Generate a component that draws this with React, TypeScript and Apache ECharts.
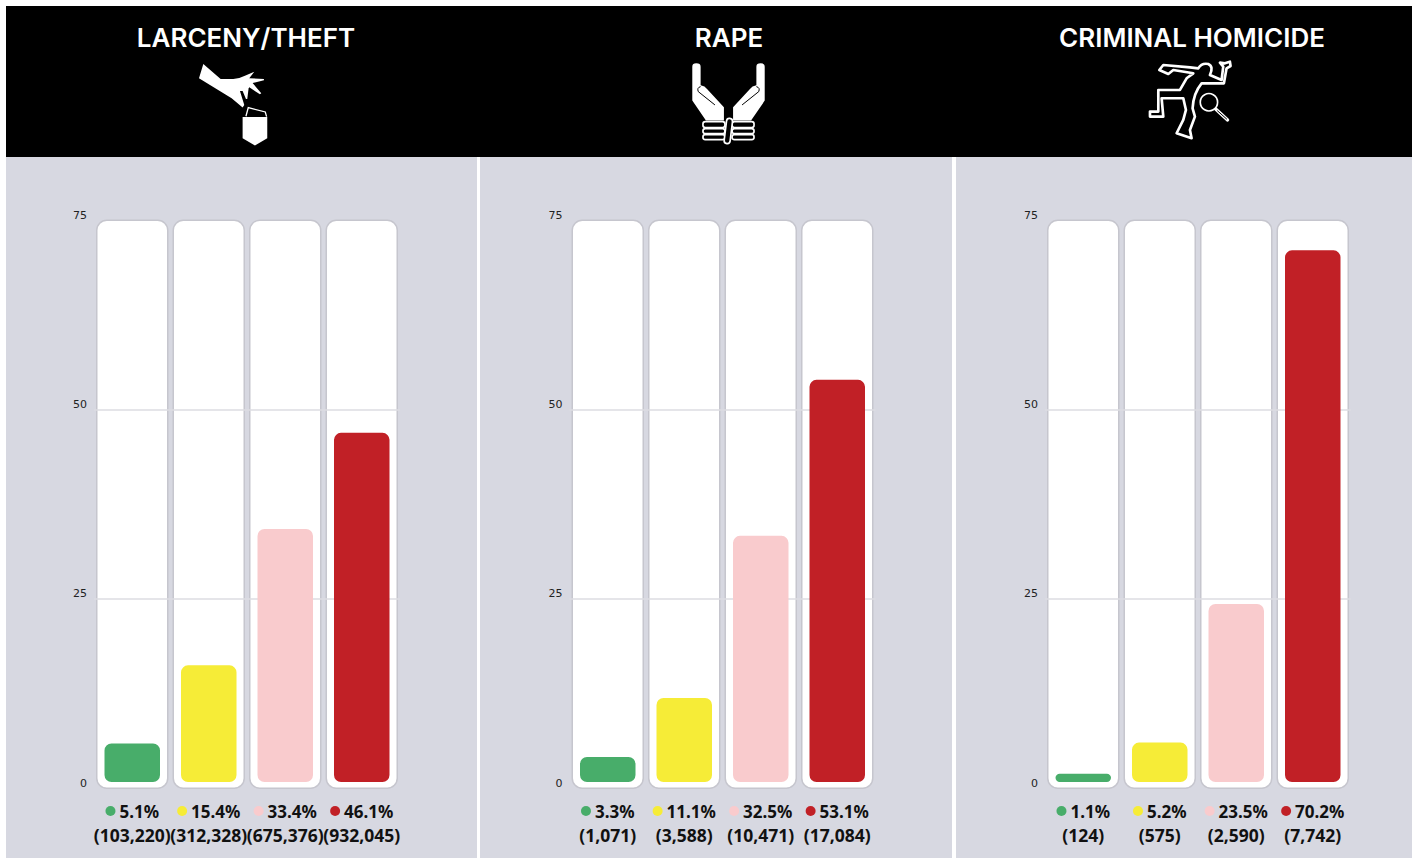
import React, { useEffect, useRef } from "react";
import * as echarts from "echarts";

const panelTitles = ["LARCENY/THEFT", "RAPE", "CRIMINAL HOMICIDE"];
const riskGroups = ["Low", "Moderate", "High", "Very high"];
const larcenyPct = [5.1, 15.4, 33.4, 46.1];
const rapePct = [3.3, 11.1, 32.5, 53.1];
const homicidePct = [1.1, 5.2, 23.5, 70.2];
const larcenyCounts = ["(103,220)", "(312,328)", "(675,376)", "(932,045)"];
const rapeCounts = ["(1,071)", "(3,588)", "(10,471)", "(17,084)"];
const homicideCounts = ["(124)", "(575)", "(2,590)", "(7,742)"];
const yTicksMax = 75;
const yTickStep = 25;
const columnFull = [75, 75, 75, 75];
const barColors = ["#48ad6a", "#f6ec37", "#f9cbcd", "#c12026"];

const panelValues = [larcenyPct, rapePct, homicidePct];
const panelCounts = [larcenyCounts, rapeCounts, homicideCounts];
const gridLefts = [94, 569.5, 1045];
const gridWidth = 306;
const titleCenters = [246, 729, 1192];
const FONT = "Inter, 'Noto Sans', sans-serif";
const LABEL_FONT = "'Noto Sans', sans-serif";
const TICK_FONT = "'DejaVu Sans', sans-serif";

echarts.graphic.registerShape(
  "handIcon",
  echarts.graphic.extendPath(
    "M40 27 L92 72 L130 72 Q150 70 165 62 L193 50 L178 70 L222 72 L222 76 L188 84 L214 115 L210 118 L178 97 L176 100 L172 132 L168 132 L158 108 L150 108 L163 150 L158 158 L125 130 L27 70 Z M158 186 L232 186 L232 250 L195 272 L158 250 Z",
    {}
  )
);
echarts.graphic.registerShape(
  "cardIcon",
  echarts.graphic.extendPath("M168 184 L175 158 L226 171 L230 185", {})
);
echarts.graphic.registerShape(
  "openHand",
  echarts.graphic.extendPath(
    "M127 50 Q127 40 139 40 Q152 40 152 50 L152 106 Q165 108 172 118 L222 172 L222 212 L168 212 L127 152 Z",
    {}
  )
);
echarts.graphic.registerShape(
  "thumbLine",
  echarts.graphic.extendPath("M152 110 Q140 113 145 125 L195 165", {})
);
echarts.graphic.registerShape(
  "chalkBody",
  echarts.graphic.extendPath(
    "M88 60 L100 45 L180 52 L205 55 Q215 38 235 42 Q252 50 240 75 L275 90 L280 50 L270 38 L285 40 L300 35 L302 48 L290 55 L282 100 L215 100 Q190 130 188 175 L195 200 L180 240 L185 265 L140 250 L160 210 L168 180 L160 145 L95 145 L100 200 L60 200 L60 185 L85 185 L85 120 L150 120 L170 85 L190 70 L130 60 L115 72 Z",
    {}
  )
);

function panelRect(x: number, width: number) {
  return { type: "rect", z: -10, shape: { x, y: 157, width, height: 701 }, style: { fill: "#d7d8e1" } };
}

function titleGraphics() {
  return panelTitles.map((t, i) => ({
    type: "text",
    z: 5,
    style: {
      x: titleCenters[i],
      y: 37,
      text: t,
      fill: "#ffffff",
      font: `600 26px ${FONT}`,
      textAlign: "center",
      textVerticalAlign: "middle",
    },
  }));
}

function icons() {
  const s = 1 / 3;
  const white = "#ffffff";
  const rope = (x: number, y: number, w: number, h: number) => ({
    type: "rect",
    shape: { x, y, width: w, height: h, r: 7 },
    style: { fill: "#000", stroke: white, lineWidth: 5 },
  });
  const hand = (mirror: boolean) => ({
    type: "group",
    x: mirror ? 471 : 0,
    scaleX: mirror ? -1 : 1,
    children: [
      rope(159, 215, 66, 18),
      rope(159, 236, 66, 15),
      rope(159, 254, 66, 15),
      { type: "openHand", style: { fill: white } },
      { type: "thumbLine", style: { fill: "none", stroke: "#000", lineWidth: 3 } },
    ],
  });
  return [
    {
      type: "group",
      x: 190,
      y: 55,
      scaleX: s,
      scaleY: s,
      z: 5,
      children: [
        { type: "handIcon", style: { fill: white } },
        { type: "cardIcon", style: { fill: "none", stroke: white, lineWidth: 4 } },
      ],
    },
    {
      type: "group",
      x: 650,
      y: 50,
      scaleX: s,
      scaleY: s,
      z: 5,
      children: [
        hand(false),
        hand(true),
        {
          type: "rect",
          x: 235,
          y: 243,
          rotation: -0.12,
          shape: { x: -9, y: -38, width: 18, height: 76, r: 9 },
          style: { fill: "#000", stroke: white, lineWidth: 5 },
        },
      ],
    },
    {
      type: "group",
      x: 1130,
      y: 50,
      scaleX: s,
      scaleY: s,
      z: 5,
      children: [
        { type: "chalkBody", style: { fill: "none", stroke: white, lineWidth: 8, lineJoin: "round" } },
        { type: "circle", shape: { cx: 237, cy: 157, r: 26 }, style: { fill: "none", stroke: white, lineWidth: 5 } },
        { type: "line", shape: { x1: 258, y1: 178, x2: 293, y2: 210 }, style: { stroke: white, lineWidth: 10, lineCap: "round" } },
        { type: "line", shape: { x1: 262, y1: 182, x2: 291, y2: 208 }, style: { stroke: "#000", lineWidth: 3 } },
      ],
    },
  ];
}

function buildOption() {
  const grids: any[] = [];
  const xAxes: any[] = [];
  const yAxes: any[] = [];
  const series: any[] = [];
  panelValues.forEach((values, p) => {
    const bgIdx = grids.length;
    grids.push({ left: gridLefts[p], width: gridWidth, top: 219.5, height: 569.5 });
    xAxes.push({ gridIndex: bgIdx, type: "category", data: riskGroups, show: false });
    yAxes.push({
      gridIndex: bgIdx,
      type: "value",
      min: 0,
      max: yTicksMax,
      interval: yTickStep,
      z: 2,
      axisLabel: { show: false },
      axisLine: { show: false },
      axisTick: { show: false },
      splitLine: { show: true, showMinLine: false, showMaxLine: false, lineStyle: { color: "#dcdce2", width: 1.5 } },
    });
    series.push({
      type: "bar",
      xAxisIndex: bgIdx,
      yAxisIndex: bgIdx,
      z: 1,
      barWidth: 72.5,
      silent: true,
      data: columnFull,
      itemStyle: { color: "#ffffff", borderColor: "#c6c6ce", borderWidth: 1.5, borderRadius: 10 },
    });
    const fgIdx = grids.length;
    grids.push({ left: gridLefts[p], width: gridWidth, top: 214, height: 568 });
    xAxes.push({
      gridIndex: fgIdx,
      type: "category",
      data: riskGroups,
      axisLine: { show: false },
      axisTick: { show: false },
      axisLabel: {
        show: true,
        interval: 0,
        margin: 17,
        hideOverlap: false,
        formatter: (_v: string, i: number) =>
          `{d${i}|}{gap|}{p|${values[i].toFixed(1)}%}\n{c|${panelCounts[p][i]}}`,
        rich: {
          d0: { width: 10, height: 10, borderRadius: 5, backgroundColor: barColors[0] },
          d1: { width: 10, height: 10, borderRadius: 5, backgroundColor: barColors[1] },
          d2: { width: 10, height: 10, borderRadius: 5, backgroundColor: barColors[2] },
          d3: { width: 10, height: 10, borderRadius: 5, backgroundColor: barColors[3] },
          gap: { width: 4 },
          p: { fontFamily: LABEL_FONT, fontWeight: 700, fontSize: 17, color: "#111", lineHeight: 24 },
          c: { fontFamily: LABEL_FONT, fontWeight: 700, fontSize: 17.5, color: "#111", lineHeight: 24 },
        },
      },
    });
    yAxes.push({
      gridIndex: fgIdx,
      type: "value",
      min: 0,
      max: yTicksMax,
      interval: yTickStep,
      axisLine: { show: false },
      axisTick: { show: false },
      splitLine: { show: false },
      axisLabel: {
        show: true,
        margin: 7,
        verticalAlign: "top",
        lineHeight: 2,
        color: "#222",
        fontSize: 11,
        fontFamily: TICK_FONT,
      },
    });
    series.push({
      type: "bar",
      xAxisIndex: fgIdx,
      yAxisIndex: fgIdx,
      z: 3,
      barWidth: 55.5,
      silent: true,
      data: values.map((v, i) => ({ value: v, itemStyle: { color: barColors[i], borderRadius: 7 } })),
    });
  });
  return {
    animation: false,
    backgroundColor: "#ffffff",
    grid: grids,
    xAxis: xAxes,
    yAxis: yAxes,
    series,
    graphic: [
      { type: "rect", z: -9, shape: { x: 6, y: 6, width: 1406, height: 151 }, style: { fill: "#000000" } },
      panelRect(6, 471),
      panelRect(480, 472),
      panelRect(956, 456),
      ...titleGraphics(),
      ...icons(),
    ],
  };
}

export default function App() {
  const ref = useRef<HTMLDivElement>(null);
  useEffect(() => {
    document.body.style.margin = "0";
    const chart = echarts.init(ref.current!, undefined, { renderer: "svg" });
    chart.setOption(buildOption() as any);
    return () => chart.dispose();
  }, []);
  return <div ref={ref} style={{ width: 1412, height: 858, overflow: "hidden" }} />;
}
